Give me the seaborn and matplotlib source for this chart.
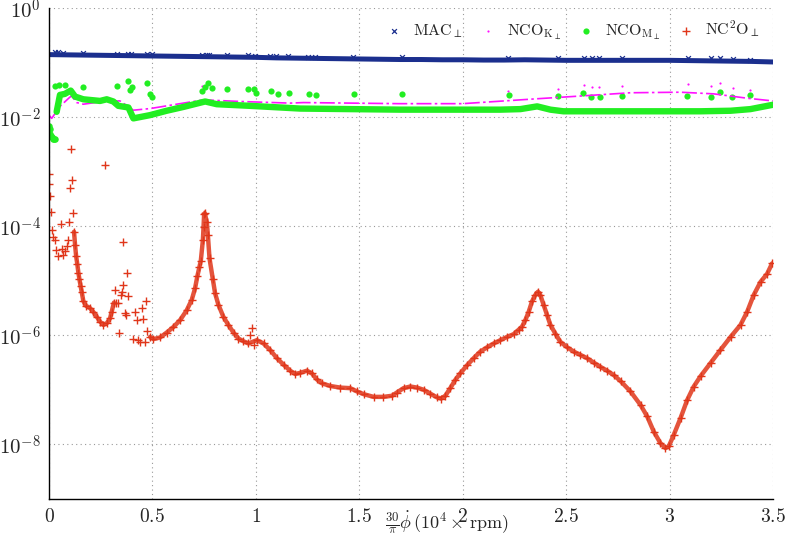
import numpy as np
import pandas as pd
import matplotlib
matplotlib.use("Agg")
import matplotlib.pyplot as plt
import seaborn as sns

# --- data (log10 of the values) ---
# MAC: band + a few "x" points just above it
blue_x = [0.0, 0.1, 0.2, 0.3, 0.4, 0.5, 0.6, 0.7, 0.8, 0.9, 1.0, 1.1, 1.2, 1.3, 1.4, 1.5, 1.6, 1.7,
          1.8, 1.9, 2.0, 2.1, 2.2, 2.3, 2.4, 2.5, 2.6, 2.7, 2.8, 2.9, 3.0, 3.1, 3.2, 3.3, 3.4, 3.5]
blue_logy = [-0.85, -0.855, -0.86, -0.865, -0.87, -0.875, -0.88, -0.885, -0.89, -0.895, -0.90, -0.91,
             -0.915, -0.92, -0.925, -0.93, -0.935, -0.94, -0.94, -0.945, -0.945, -0.95, -0.95, -0.945,
             -0.95, -0.955, -0.955, -0.955, -0.955, -0.955, -0.955, -0.96, -0.965, -0.97, -0.975, -0.985]
blue_mark_x = [0.029, 0.044, 0.068, 0.164, 0.329, 0.382, 0.397, 0.474, 0.498, 0.740, 0.764, 0.774,
               0.861, 0.963, 0.997, 1.069, 1.098, 1.156, 1.253, 1.287, 1.471, 1.708, 2.221, 2.463,
               2.584, 2.627, 2.661, 2.772, 3.087, 3.198, 3.242, 3.305, 3.391]
blue_mark_logy = [-0.81, -0.81, -0.82, -0.82, -0.83, -0.83, -0.84, -0.84, -0.84, -0.85, -0.85, -0.85,
                  -0.86, -0.86, -0.87, -0.87, -0.88, -0.88, -0.89, -0.89, -0.90, -0.90, -0.91, -0.91,
                  -0.91, -0.91, -0.91, -0.91, -0.92, -0.92, -0.92, -0.93, -0.94]

# NCO_K: dash-dot line + small dots
mag_x = [0.000, 0.013, 0.053, 0.101, 0.110, 0.134, 0.166, 0.279, 0.343, 0.408, 0.489, 0.746, 0.924,
         1.166, 1.230, 1.690, 2.000, 2.360, 2.569, 2.811, 3.053, 3.213, 3.375, 3.500]
mag_logy = [-1.96, -2.02, -1.80, -1.63, -1.61, -1.73, -1.76, -1.70, -1.70, -1.87, -1.84, -1.68, -1.71,
            -1.74, -1.73, -1.75, -1.75, -1.66, -1.61, -1.55, -1.54, -1.57, -1.65, -1.70]
mag_dot_x = [0.329, 0.397, 0.740, 0.861, 2.221, 2.463, 2.584, 2.627, 2.661, 2.772, 3.087, 3.198,
             3.242, 3.305, 3.391]
mag_dot_logy = [-1.41, -1.43, -1.43, -1.47, -1.52, -1.49, -1.41, -1.45, -1.44, -1.43, -1.39, -1.43,
                -1.38, -1.47, -1.50]

# NCO_M: a few points at the very start, a thick band, dots above it
green_start_x = [0.000, 0.003, 0.005, 0.010, 0.016, 0.021, 0.026, 0.029]
green_start_logy = [-2.16, -2.22, -2.30, -2.34, -2.37, -2.39, -2.40, -2.40]
green_x = [0.037, 0.053, 0.077, 0.105, 0.126, 0.166, 0.247, 0.279, 0.311, 0.335, 0.384, 0.408, 0.489,
           0.569, 0.650, 0.755, 0.811, 0.972, 1.214, 1.456, 1.698, 1.940, 2.182, 2.279, 2.360, 2.424,
           2.487, 2.666, 2.908, 3.150, 3.295, 3.391, 3.500]
green_logy = [-1.90, -1.59, -1.57, -1.51, -1.62, -1.67, -1.70, -1.67, -1.71, -1.79, -1.82, -2.02, -1.96,
              -1.88, -1.81, -1.71, -1.76, -1.79, -1.84, -1.85, -1.86, -1.86, -1.86, -1.85, -1.80, -1.86,
              -1.89, -1.89, -1.89, -1.89, -1.88, -1.85, -1.77]
green_dot_x = [0.029, 0.049, 0.077, 0.166, 0.327, 0.381, 0.392, 0.400, 0.473, 0.489, 0.497, 0.739,
               0.755, 0.771, 0.787, 0.860, 0.964, 0.989, 1.001, 1.074, 1.105, 1.158, 1.255, 1.290,
               1.475, 1.706, 2.222, 2.461, 2.580, 2.622, 2.662, 2.770, 3.085, 3.198, 3.243, 3.303, 3.391]
green_dot_logy = [-1.43, -1.41, -1.41, -1.44, -1.43, -1.33, -1.50, -1.45, -1.37, -1.58, -1.63, -1.52,
                  -1.45, -1.38, -1.47, -1.49, -1.49, -1.49, -1.55, -1.52, -1.58, -1.56, -1.57, -1.59,
                  -1.57, -1.57, -1.60, -1.61, -1.55, -1.62, -1.62, -1.61, -1.61, -1.62, -1.54, -1.62, -1.60]

# NC2O: two smooth stretches + scattered points
red_a_x = [0.121, 0.126, 0.131, 0.137, 0.142, 0.147, 0.153, 0.158, 0.166, 0.179, 0.198, 0.214, 0.231,
           0.247, 0.263, 0.279, 0.295, 0.303, 0.314]
red_a_logy = [-4.10, -4.34, -4.54, -4.70, -4.85, -4.97, -5.10, -5.20, -5.37, -5.46, -5.50, -5.57, -5.66,
              -5.75, -5.81, -5.78, -5.69, -5.57, -5.40]
red_b_x = [0.489, 0.505, 0.537, 0.569, 0.601, 0.634, 0.666, 0.690, 0.706, 0.717, 0.727, 0.734, 0.744,
           0.747, 0.750, 0.753, 0.763, 0.768, 0.776, 0.792, 0.803, 0.819, 0.843, 0.867, 0.892, 0.916,
           0.940, 0.964, 1.005, 1.037, 1.069, 1.102, 1.134, 1.166, 1.190, 1.214, 1.247, 1.271, 1.295,
           1.319, 1.359, 1.408, 1.456, 1.489, 1.521, 1.569, 1.617, 1.658, 1.682, 1.714, 1.747, 1.779,
           1.811, 1.843, 1.876, 1.895, 1.916, 1.940, 1.964, 1.988, 2.021, 2.053, 2.085, 2.118, 2.150,
           2.182, 2.214, 2.246, 2.270, 2.287, 2.303, 2.319, 2.335, 2.351, 2.364, 2.375, 2.391, 2.408,
           2.424, 2.448, 2.472, 2.505, 2.537, 2.569, 2.601, 2.633, 2.666, 2.698, 2.730, 2.763, 2.811,
           2.860, 2.892, 2.924, 2.956, 2.980, 2.996, 3.020, 3.053, 3.085, 3.117, 3.150, 3.198, 3.246,
           3.295, 3.343, 3.375, 3.407, 3.440, 3.472, 3.496]
red_b_logy = [-6.03, -6.07, -6.04, -5.95, -5.85, -5.72, -5.54, -5.35, -5.14, -4.92, -4.75, -4.63, -4.25,
              -4.02, -3.77, -3.76, -3.92, -4.16, -4.59, -4.97, -5.23, -5.44, -5.66, -5.81, -5.95, -6.06,
              -6.11, -6.15, -6.09, -6.15, -6.27, -6.42, -6.54, -6.65, -6.71, -6.69, -6.65, -6.70, -6.81,
              -6.88, -6.93, -6.96, -6.97, -7.03, -7.08, -7.13, -7.13, -7.11, -7.05, -6.97, -6.94, -6.96,
              -7.00, -7.07, -7.14, -7.16, -7.11, -6.97, -6.82, -6.70, -6.55, -6.42, -6.30, -6.22, -6.15,
              -6.09, -6.03, -5.98, -5.90, -5.84, -5.72, -5.57, -5.38, -5.26, -5.20, -5.26, -5.44, -5.63,
              -5.81, -5.97, -6.12, -6.22, -6.30, -6.36, -6.42, -6.50, -6.58, -6.65, -6.73, -6.84, -7.03,
              -7.28, -7.49, -7.77, -7.98, -8.07, -8.04, -7.83, -7.52, -7.19, -6.94, -6.75, -6.51, -6.27,
              -6.03, -5.81, -5.57, -5.26, -5.02, -4.87, -4.68]
red_noise_x = [0.000, 0.001, 0.005, 0.010, 0.016, 0.021, 0.029, 0.034, 0.045, 0.057, 0.061, 0.069,
               0.077, 0.086, 0.093, 0.097, 0.102, 0.110, 0.105, 0.115, 0.271, 0.319, 0.324, 0.335,
               0.340, 0.347, 0.352, 0.359, 0.359, 0.368, 0.373, 0.379, 0.384, 0.408, 0.416, 0.424,
               0.432, 0.440, 0.448, 0.456, 0.464, 0.469, 0.476, 0.972, 0.982, 0.993]
red_noise_logy = [-3.04, -3.22, -3.44, -3.73, -4.06, -4.20, -4.25, -4.43, -4.54, -3.95, -4.42, -4.53,
                  -4.45, -4.36, -4.25, -3.93, -3.29, -3.15, -2.59, -3.76, -2.88, -5.17, -5.41, -5.41,
                  -5.96, -5.26, -5.20, -5.08, -4.28, -5.60, -5.63, -4.86, -5.28, -6.06, -5.58, -5.72,
                  -6.09, -6.12, -5.50, -5.71, -6.12, -5.37, -5.92, -6.00, -5.87, -6.18]

labels = [r'$\mathrm{MAC}_{\perp}$', r'$\mathrm{NCO}_{\mathrm{K}_{\perp}}$',
          r'$\mathrm{NCO}_{\mathrm{M}_{\perp}}$', r'$\mathrm{NC}^{2}\mathrm{O}_{\perp}$']
xticks = [0, 0.5, 1, 1.5, 2, 2.5, 3, 3.5]
xtick_labels = ['$0$', '$0.5$', '$1$', '$1.5$', '$2$', '$2.5$', '$3$', '$3.5$']
yticks = [1e0, 1e-2, 1e-4, 1e-6, 1e-8]
ytick_labels = [r'$10^{0}$', r'$10^{-2}$', r'$10^{-4}$', r'$10^{-6}$', r'$10^{-8}$']

c_blue = '#1b2f8e'
c_mag = '#ff11ff'
c_green = '#22ee22'
c_red = '#e0361a'


def frame(x, logy, seg=0):
    return pd.DataFrame({'x': x, 'y': 10.0 ** np.asarray(logy), 'seg': seg})


sns.set_style('white')
plt.rcParams['mathtext.fontset'] = 'cm'

fig = plt.figure(figsize=(7.89, 5.45), dpi=100)
ax = fig.add_axes([0.0621, 0.0848, 0.9176, 0.9])

# MAC
sns.lineplot(data=frame(blue_x, blue_logy), x='x', y='y', color=c_blue, lw=3.6, ax=ax,
             estimator=None, sort=False, legend=False)
sns.scatterplot(data=frame(blue_mark_x, blue_mark_logy), x='x', y='y', marker='x', color=c_blue,
                s=12, linewidth=0.9, ax=ax, label=labels[0])

# NCO_K
sns.lineplot(data=frame(mag_x, mag_logy), x='x', y='y', color=c_mag, lw=1.2, ax=ax,
             estimator=None, sort=False, legend=False, linestyle=(0, (9, 2, 1.5, 2)))
sns.scatterplot(data=frame(mag_dot_x, mag_dot_logy), x='x', y='y', marker='.', color=c_mag,
                s=10, linewidth=0, ax=ax, label=labels[1])

# NCO_M
sns.scatterplot(data=frame(green_start_x, green_start_logy), x='x', y='y', marker='o', color=c_green,
                s=22, linewidth=0, ax=ax, legend=False)
sns.lineplot(data=frame(green_x, green_logy), x='x', y='y', color=c_green, lw=4.6, ax=ax,
             estimator=None, sort=False, legend=False)
sns.scatterplot(data=frame(green_dot_x, green_dot_logy), x='x', y='y', marker='o', color=c_green,
                s=20, linewidth=0, ax=ax, label=labels[2])

# NC2O
red_curves = pd.concat([frame(red_a_x, red_a_logy, 0), frame(red_b_x, red_b_logy, 1)])
sns.lineplot(data=red_curves, x='x', y='y', units='seg', estimator=None, sort=False,
             color=c_red, lw=3.2, alpha=0.85, ax=ax, legend=False)
red_all = pd.concat([red_curves, frame(red_noise_x, red_noise_logy, 2)])
sns.scatterplot(data=red_all, x='x', y='y', marker='+', color=c_red, s=30, linewidth=1.0,
                ax=ax, label=labels[3])

ax.set_yscale('log')
ax.set_xlim(0, 3.5)
ax.set_ylim(1e-9, 1e0)
ax.set_xticks(xticks)
ax.set_xticklabels(xtick_labels, fontsize=14)
ax.set_yticks(yticks)
ax.set_yticklabels(ytick_labels, fontsize=15)
ax.yaxis.set_minor_locator(matplotlib.ticker.NullLocator())
ax.tick_params(direction='in', length=3, width=0.8, pad=6)
ax.grid(True, which='major', linestyle=(0, (1, 3)), color='#999999', linewidth=0.8)
for side in ['top', 'right']:
    ax.spines[side].set_visible(False)
for side in ['left', 'bottom']:
    ax.spines[side].set_color('black')
    ax.spines[side].set_linewidth(1.0)

ax.set_ylabel('')
ax.set_xlabel(r'$\frac{30}{\pi}\dot{\phi}\,(10^{4}\times\,\mathrm{rpm})$', fontsize=13)
ax.xaxis.set_label_coords(0.55, -0.048)
ax.xaxis.label.set_va('center')

ax.legend(loc='upper right', bbox_to_anchor=(0.995, 0.997), ncol=4, frameon=False,
          fontsize=11.5, handlelength=1.0, handletextpad=0.7, columnspacing=1.05,
          markerscale=1.0, borderaxespad=0.2)

fig.savefig('out.png', dpi=100)
